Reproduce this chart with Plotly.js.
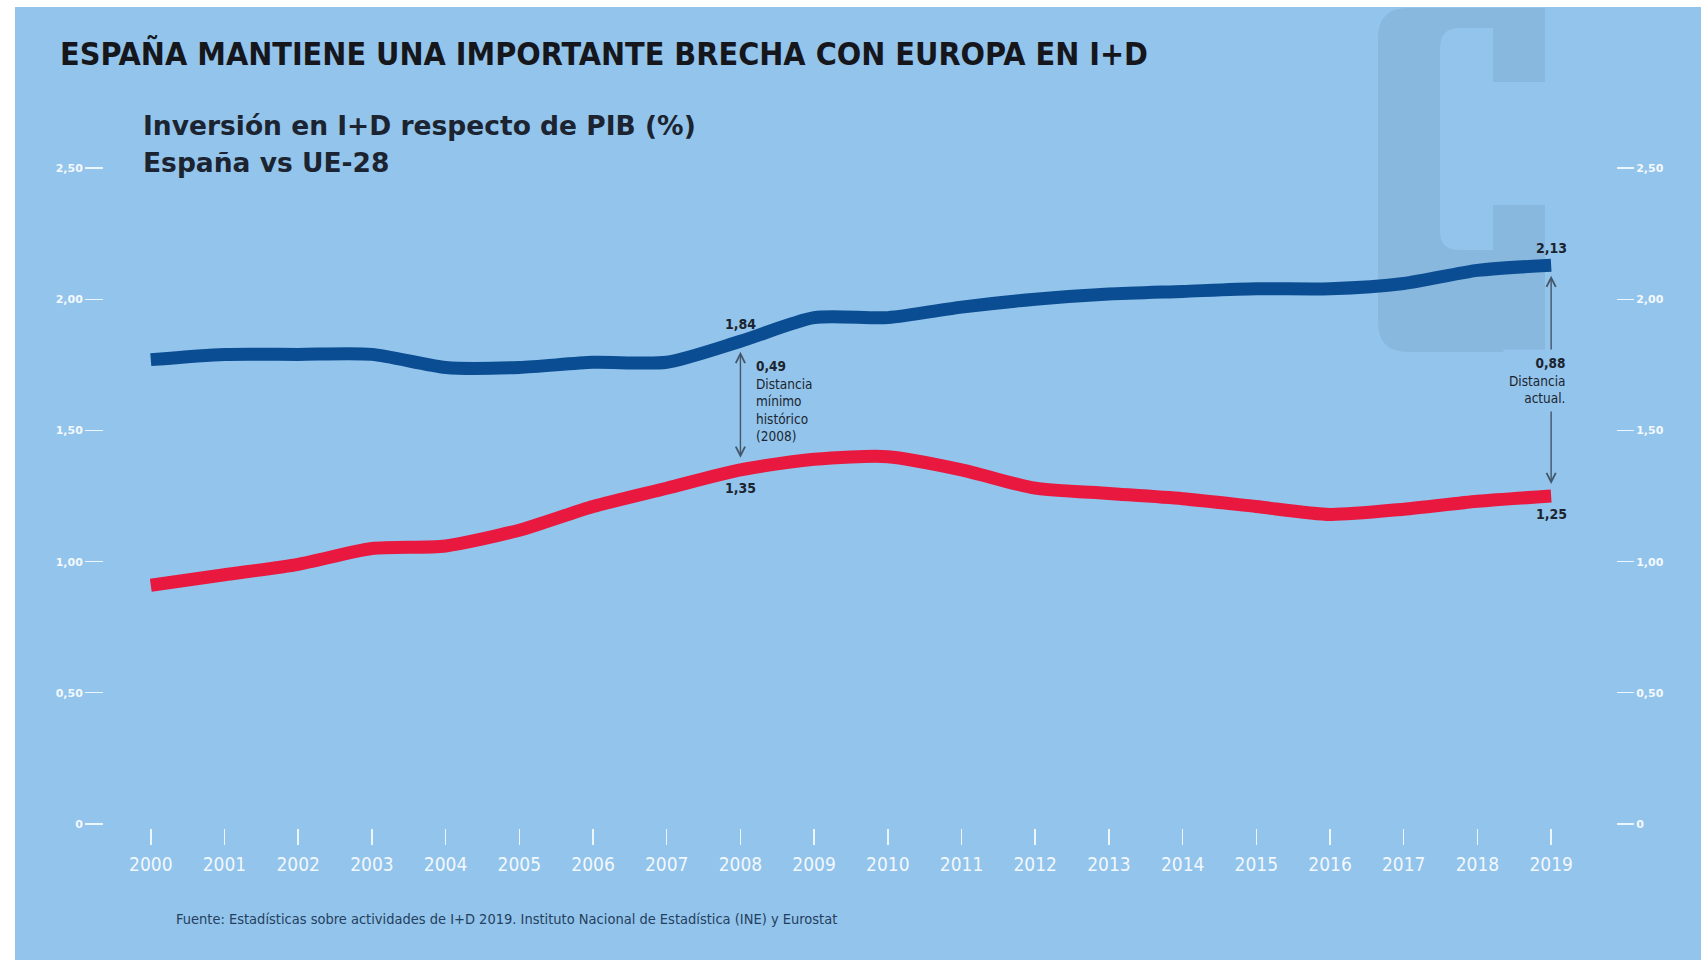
<!DOCTYPE html>
<html>
<head>
<meta charset="utf-8">
<script src="https://cdn.plot.ly/plotly-3.0.1.min.js"></script>
<style>html,body{margin:0;padding:0;background:#fff;}#chart{width:1701px;height:960px;}</style>
</head>
<body>
<div id="chart"></div>
<script>
// ---- data ----
const years = [2000,2001,2002,2003,2004,2005,2006,2007,2008,2009,2010,2011,2012,2013,2014,2015,2016,2017,2018,2019];
const yearLabels = ["2000","2001","2002","2003","2004","2005","2006","2007","2008","2009","2010","2011","2012","2013","2014","2015","2016","2017","2018","2019"];
const ue28 = [1.77,1.79,1.79,1.79,1.74,1.74,1.76,1.76,1.84,1.93,1.93,1.97,2.00,2.02,2.03,2.04,2.04,2.06,2.11,2.13];
const espana = [0.91,0.95,0.99,1.05,1.06,1.12,1.21,1.28,1.35,1.39,1.40,1.35,1.28,1.26,1.24,1.21,1.18,1.20,1.23,1.25];
const yTickVals = [0,0.5,1,1.5,2,2.5];
const yTickText = ["0","0,50","1,00","1,50","2,00","2,50"];
const labelMin = {year:2008, ue:"1,84", es:"1,35", gap:"0,49", text:["Distancia","mínimo","histórico","(2008)"]};
const labelNow = {year:2019, ue:"2,13", es:"1,25", gap:"0,88", text:["Distancia","actual."]};

// ---- layout geometry (pixels) ----
const W = 1701, H = 960;
const M = {l:104, r:85, t:140, b:132};
const PW = W - M.l - M.r, PH = H - M.t - M.b;
const px = x => (x - M.l) / PW;
const py = y => (H - M.b - y) / PH;
const pt = (x,y) => px(x).toFixed(5) + "," + py(y).toFixed(5);

const BG = "#93c4eb";
const WM = "#88b8de";
const BLUE = "#0b4d92";
const RED = "#e8183f";
const DARK = "#1b2430";

// C watermark path
const cPath = "M" + pt(1408,8) + " L" + pt(1545,8) + " L" + pt(1545,82) + " L" + pt(1493,82) +
  " L" + pt(1493,28) + " L" + pt(1460,28) + " Q" + pt(1440,28) + " " + pt(1440,48) +
  " L" + pt(1440,232) + " Q" + pt(1440,250) + " " + pt(1460,250) +
  " L" + pt(1493,250) + " L" + pt(1493,205) + " L" + pt(1545,205) + " L" + pt(1545,352) +
  " L" + pt(1408,352) + " Q" + pt(1378,352) + " " + pt(1378,322) +
  " L" + pt(1378,38) + " Q" + pt(1378,8) + " " + pt(1408,8) + " Z";

const iMin = years.indexOf(labelMin.year);
const iNow = years.indexOf(labelNow.year);
const off = 0.04;

const numFont = {family:"DejaVu Sans Condensed, Liberation Sans Narrow, sans-serif", size:14, color:DARK, weight:"bold"};
const noteFont = {family:"DejaVu Sans Condensed, Liberation Sans Narrow, sans-serif", size:13.5, color:DARK};

const traces = [
  {x:years, y:ue28, type:"scatter", mode:"lines", name:"UE-28",
   line:{color:BLUE, width:13, shape:"spline", smoothing:0.7}, hoverinfo:"x+y"},
  {x:years, y:espana, type:"scatter", mode:"lines", name:"España",
   line:{color:RED, width:13, shape:"spline", smoothing:0.7}, hoverinfo:"x+y"},
  {x:years, y:espana, type:"scatter", mode:"lines", yaxis:"y2", opacity:0,
   showlegend:false, hoverinfo:"skip", line:{width:0}}
];

const subFont = {family:"DejaVu Sans, sans-serif", size:26.5, color:DARK, weight:"bold"};

const annotations = [
  // subtitle
  {xref:"paper", yref:"paper", x:px(141), y:py(125), xanchor:"left", yanchor:"middle", showarrow:false,
   text:"Inversión en I+D respecto de PIB (%)", font:subFont},
  {xref:"paper", yref:"paper", x:px(141), y:py(163), xanchor:"left", yanchor:"middle", showarrow:false,
   text:"España vs UE-28", font:subFont},
  // source
  {xref:"paper", yref:"paper", x:px(174), y:py(919), xanchor:"left", yanchor:"middle", showarrow:false,
   text:"Fuente: Estadísticas sobre actividades de I+D 2019. Instituto Nacional de Estadística (INE) y Eurostat",
   font:{family:"DejaVu Sans Condensed, Liberation Sans Narrow, sans-serif", size:14.5, color:"#24405e"}},
  // value labels
  {x:labelMin.year, y:ue28[iMin], yanchor:"bottom", yshift:7, showarrow:false, text:labelMin.ue, font:numFont},
  {x:labelMin.year, y:espana[iMin], yanchor:"top", yshift:-8, showarrow:false, text:labelMin.es, font:numFont},
  {x:labelNow.year, y:ue28[iNow], yanchor:"bottom", yshift:7, showarrow:false, text:labelNow.ue, font:numFont},
  {x:labelNow.year, y:espana[iNow], yanchor:"top", yshift:-8, showarrow:false, text:labelNow.es, font:numFont},
  // arrows
  {x:labelMin.year, y:ue28[iMin]-off, ax:labelMin.year, ay:espana[iMin]+off, axref:"x", ayref:"y",
   showarrow:true, arrowside:"end+start", arrowhead:5, startarrowhead:5, arrowsize:1.3, startarrowsize:1.3, arrowwidth:1.4,
   arrowcolor:"#44566a", text:""},
  {x:labelNow.year, y:ue28[iNow]-off, ax:labelNow.year, ay:espana[iNow]+off, axref:"x", ayref:"y",
   showarrow:true, arrowside:"end+start", arrowhead:5, startarrowhead:5, arrowsize:1.3, startarrowsize:1.3, arrowwidth:1.4,
   arrowcolor:"#44566a", text:""},
  // notes
  {x:labelMin.year, y:ue28[iMin], xanchor:"left", yanchor:"top", xshift:14, yshift:-15, showarrow:false, align:"left",
   text:"<b>"+labelMin.gap+"</b><br>"+labelMin.text.join("<br>"), font:noteFont},
  {x:labelNow.year, y:ue28[iNow], xanchor:"right", yanchor:"top", xshift:20, yshift:-84, showarrow:false, align:"right",
   bgcolor:BG, borderpad:5,
   text:"<b>"+labelNow.gap+"</b><br>"+labelNow.text.join("<br>"), font:noteFont}
];

const tickFontY = {family:"DejaVu Sans, sans-serif", size:11, color:"#f4f9fe", weight:"bold"};

const layout = {
  width:W, height:H,
  margin:M,
  paper_bgcolor:"#ffffff",
  plot_bgcolor:"rgba(0,0,0,0)",
  showlegend:false,
  title:{text:"ESPAÑA MANTIENE UNA IMPORTANTE BRECHA CON EUROPA EN I+D",
    xref:"container", yref:"container", x:60/W, y:1-54/H, xanchor:"left", yanchor:"middle",
    font:{family:"DejaVu Sans Condensed, Liberation Sans Narrow, sans-serif", size:32, color:"#15171c", weight:"bold"}},
  xaxis:{range:[1999.365, 2019.88], tickvals:years, ticktext:yearLabels, ticks:"outside", ticklen:16, tickwidth:1.5,
    tickcolor:"#eef6fd", showgrid:false, zeroline:false, showline:false, ticklabelstandoff:3,
    tickfont:{family:"DejaVu Sans Condensed, Liberation Sans Narrow, sans-serif", size:19, color:"#f2f8fe"}},
  yaxis:{range:[-0.015, 2.607], tickvals:yTickVals, ticktext:yTickText, ticks:"outside", ticklen:18, tickwidth:1.2,
    tickcolor:"#eef6fd", showgrid:false, zeroline:false, showline:false, tickfont:tickFontY},
  yaxis2:{range:[-0.015, 2.607], overlaying:"y", side:"right", tickvals:yTickVals, ticktext:yTickText, ticks:"outside",
    ticklen:17, tickwidth:1.2, tickcolor:"#eef6fd", showgrid:false, zeroline:false, showline:false, tickfont:tickFontY},
  shapes:[
    {type:"rect", xref:"paper", yref:"paper", x0:px(15), x1:px(W), y0:py(H), y1:py(7), fillcolor:BG, line:{width:0}, layer:"below"},
    {type:"path", xref:"paper", yref:"paper", path:cPath, fillcolor:WM, line:{width:0}, layer:"below"}
  ],
  annotations:annotations
};

Plotly.newPlot("chart", traces, layout, {displayModeBar:false, staticPlot:true});
</script>
</body>
</html>
